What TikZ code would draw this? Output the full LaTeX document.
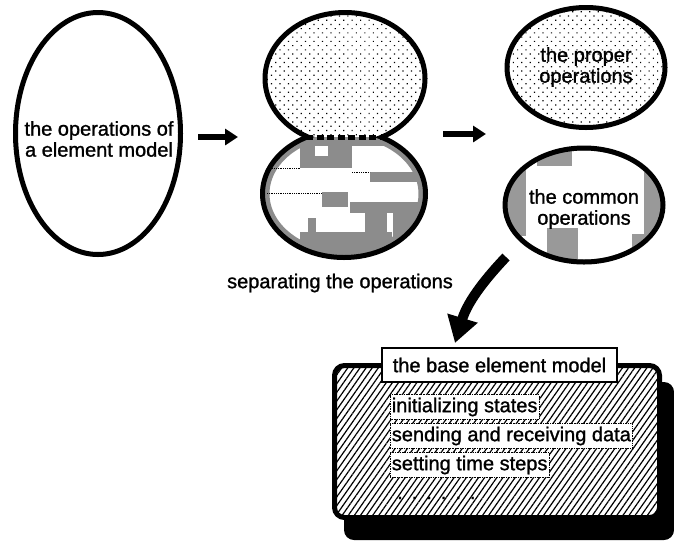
\documentclass[tikz,border=0pt]{standalone}
\usepackage{fontspec}
\setmainfont{Liberation Sans}[FakeBold=1.2]
\usetikzlibrary{shapes.geometric,patterns.meta,arrows.meta,calc}
\begin{document}
\begin{tikzpicture}[x=1pt,y=-1pt,
  txt/.style={font=\fontsize{20}{21}\selectfont, align=center, inner sep=0pt},
  oval/.style={ellipse, draw, line width=5pt, inner sep=0pt},
  fatarrow/.style={line width=6pt, -{Triangle[length=13pt,width=16pt]}},
  dotfill/.style={pattern={Dots[distance=6pt,angle=45,radius=0.85pt]}},
  itembox/.style={txt, fill=white, draw, densely dotted, line width=0.7pt, inner xsep=1.5pt, inner ysep=3pt, anchor=west},
]
\useasboundingbox (0,0) rectangle (674,542);

% left ellipse
\node[oval, minimum width=165pt, minimum height=242pt] (ops) at (98,133.5) {};
\node[txt] (opst) at (99,139) {the operations of\\a element model};

% figure eight: top lobe
\begin{scope}
  \clip (0,0) rectangle (674,137);
  \node[oval, dotfill, minimum width=160pt, minimum height=132pt] (top8) at (345,78.5) {};
\end{scope}
% bottom lobe
\begin{scope}
  \clip (0,137) rectangle (674,542);
  \begin{scope}
    \clip (344,193.8) ellipse [x radius=81.5, y radius=63.7];
    \draw[black!45, line width=14pt] (344,193.8) ellipse [x radius=81.5, y radius=63.7];
    \fill[black!45] (300,130) rectangle (352,168);
    \fill[white] (315,145) rectangle (328,156);
    \fill[black!45] (305,130) rectangle (385,146);
    \fill[black!45] (370,172) rectangle (420,182);
    \fill[black!45] (322,192) rectangle (348,207);
    \fill[black!45] (350,202) rectangle (430,213);
    \fill[black!45] (365,205) rectangle (387,232);
    \fill[black!45] (393,213) rectangle (430,242);
    \fill[black!45] (300,232) rectangle (392,262);
    \fill[black!45] (308,218) rectangle (316,262);
    \draw[densely dotted, line width=0.8pt] (267,168) -- (300,168);
    \draw[densely dotted, line width=0.8pt] (267,193) -- (322,193);
    \draw[densely dotted, line width=0.8pt] (352,172) -- (370,172);
  \end{scope}
  \node[oval, minimum width=163pt, minimum height=127.4pt] (bot8) at (344,193.8) {};
\end{scope}
\draw[line width=5pt, dash pattern=on 7pt off 3.5pt] (306,137) -- (381,137);

% arrows between stages
\coordinate (a1s) at (198,137);
\coordinate (a1e) at (238,137);
\draw[fatarrow] (a1s) -- (a1e);
\coordinate (a2s) at (443,134);
\coordinate (a2e) at (486,134);
\draw[fatarrow] (a2s) -- (a2e);

% proper operations
\node[oval, dotfill, minimum width=158pt, minimum height=120pt] (proper) at (586,67.5) {};
\node[txt] (propert) at (586,67) {the proper\\operations};

% common operations
\begin{scope}
  \clip (584,205) ellipse [x radius=79, y radius=57];
  \fill[black!40] (500,168) rectangle (526,236);
  \fill[black!40] (537,140) rectangle (572,166);
  \fill[black!40] (547,228) rectangle (578,270);
  \fill[black!40] (644,172) rectangle (670,246);
  \fill[black!40] (632,234) rectangle (648,250);
  \draw[black!40, line width=5pt] (584,205) ellipse [x radius=79, y radius=57];
\end{scope}
\node[oval, minimum width=158pt, minimum height=114pt] (common) at (584,205) {};
\node[txt] (commont) at (584,209) {the common\\operations};

% separating label
\node[txt] (sep) at (340,283) {separating the operations};

% base element model box
\fill[rounded corners=10pt] (344,382) rectangle (674,540);
\node[draw, line width=5pt, rounded corners=10pt, minimum width=325pt, minimum height=152pt,
      preaction={fill=white}, pattern={Lines[angle=55,distance=5pt,line width=1.2pt]}] (base) at (497,441.5) {};
\node[txt, draw, fill=white, line width=1.8pt, minimum width=235pt, minimum height=34pt] (title) at (499.5,365) {the base element model};
\node[itembox] (i1) at (390,407) {initializing states};
\node[itembox] (i2) at (390,436) {sending and receiving data};
\node[itembox] (i3) at (390,465) {setting time steps};
\node[txt, anchor=west] (more) at (397,498) {.\hskip9pt.\hskip9pt.\hskip9pt.\hskip9pt.\hskip9pt.};

% curved arrow
\coordinate (c1) at (506,257);
\coordinate (c2) at (455,343);
\draw[line width=10pt, -{Triangle[length=26pt,width=30pt]}] (c1) .. controls (488,276) and (468,300) .. (c2);
\end{tikzpicture}
\end{document}
